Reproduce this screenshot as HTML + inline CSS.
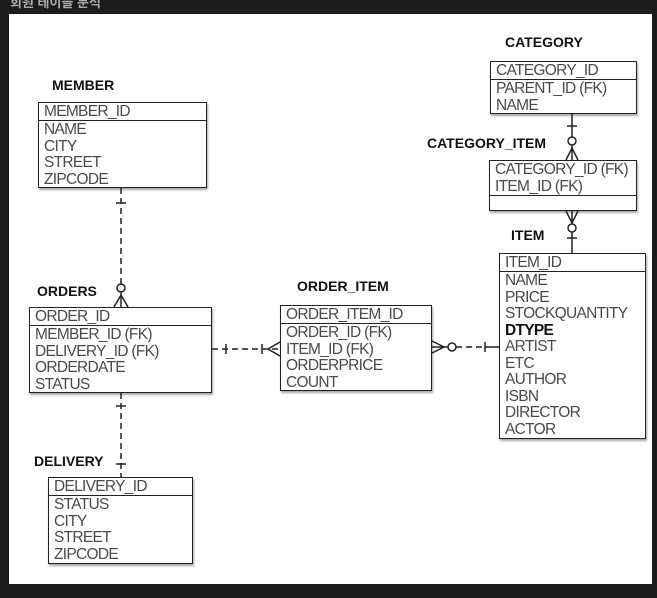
<!DOCTYPE html>
<html><head><meta charset="utf-8"><style>
*{margin:0;padding:0;box-sizing:border-box}
body{width:657px;height:598px;background:#1c1c1c;position:relative;overflow:hidden;font-family:"Liberation Sans",Arial,sans-serif}
#title{position:absolute;left:10px;top:-8px;color:#aaa;font:bold 13px "Liberation Sans","Noto Sans CJK KR",sans-serif}
#paper{position:absolute;left:9px;top:14px;width:643px;height:570px;background:#fff}
.lbl{position:absolute;font-weight:bold;font-size:14px;color:#111}
.box{position:absolute;border:1.5px solid #222;background:#fff;box-shadow:1px 2px 2px rgba(0,0,0,.35);color:#4a4a4a;font-size:15.5px;line-height:16.5px;letter-spacing:-0.7px}
.box .h{border-bottom:1.5px solid #222;padding-left:5px;height:18px;line-height:18px}
.box .f{padding-left:5px;padding-top:1px}
svg{position:absolute;left:0;top:0}
</style></head><body>
<div id="title">회원 테이블 분석</div>
<div id="paper"></div>

<div class="lbl" style="left:52px;top:77px">MEMBER</div>
<div class="lbl" style="left:505px;top:34px">CATEGORY</div>
<div class="lbl" style="left:427px;top:135px">CATEGORY_ITEM</div>
<div class="lbl" style="left:511px;top:227px">ITEM</div>
<div class="lbl" style="left:37px;top:283px">ORDERS</div>
<div class="lbl" style="left:297px;top:278px">ORDER_ITEM</div>
<div class="lbl" style="left:34px;top:453px">DELIVERY</div>

<div class="box" style="left:38px;top:102px;width:169px;height:86px">
<div class="h">MEMBER_ID</div><div class="f">NAME<br>CITY<br>STREET<br>ZIPCODE</div></div>

<div class="box" style="left:490px;top:61px;width:147px;height:53px">
<div class="h">CATEGORY_ID</div><div class="f">PARENT_ID (FK)<br>NAME</div></div>

<div class="box" style="left:489px;top:160px;width:148px;height:51px">
<div class="f" style="height:35px;border-bottom:1.5px solid #222">CATEGORY_ID (FK)<br>ITEM_ID (FK)</div></div>

<div class="box" style="left:499px;top:253px;width:147px;height:186px">
<div class="h">ITEM_ID</div><div class="f">NAME<br>PRICE<br>STOCKQUANTITY<br><b style="color:#111">DTYPE</b><br>ARTIST<br>ETC<br>AUTHOR<br>ISBN<br>DIRECTOR<br>ACTOR</div></div>

<div class="box" style="left:29px;top:307px;width:183px;height:86px">
<div class="h">ORDER_ID</div><div class="f">MEMBER_ID (FK)<br>DELIVERY_ID (FK)<br>ORDERDATE<br>STATUS</div></div>

<div class="box" style="left:280px;top:305px;width:152px;height:86px">
<div class="h">ORDER_ITEM_ID</div><div class="f">ORDER_ID (FK)<br>ITEM_ID (FK)<br>ORDERPRICE<br>COUNT</div></div>

<div class="box" style="left:48px;top:477px;width:145px;height:87px">
<div class="h">DELIVERY_ID</div><div class="f">STATUS<br>CITY<br>STREET<br>ZIPCODE</div></div>

<svg width="657" height="598" fill="none" stroke="#222" stroke-width="1.5">
<line x1="121" y1="188" x2="121" y2="284" stroke-dasharray="6,4"/>
<line x1="116" y1="203" x2="126" y2="203"/>
<circle cx="121" cy="288" r="4" fill="#fff"/>
<line x1="121" y1="292" x2="121" y2="307"/>
<path d="M114 307 L121 295 L128 307"/>
<line x1="121" y1="393" x2="121" y2="477" stroke-dasharray="6,4"/>
<line x1="116" y1="406" x2="126" y2="406"/>
<line x1="116" y1="464" x2="126" y2="464"/>
<line x1="212" y1="349" x2="280" y2="349" stroke-dasharray="6,4"/>
<line x1="226" y1="344" x2="226" y2="354"/>
<line x1="262" y1="344" x2="262" y2="354"/>
<path d="M280 342 L268 349 L280 356"/>
<path d="M432 341 L444 347 L432 353"/>
<line x1="432" y1="347" x2="448" y2="347"/>
<circle cx="452" cy="347" r="4" fill="#fff"/>
<line x1="456" y1="347" x2="485" y2="347" stroke-dasharray="6,4"/>
<line x1="485" y1="347" x2="499" y2="347"/>
<line x1="485" y1="342" x2="485" y2="352"/>
<line x1="572" y1="114" x2="572" y2="137"/>
<line x1="567" y1="126" x2="577" y2="126"/>
<circle cx="572" cy="141" r="4" fill="#fff"/>
<line x1="572" y1="145" x2="572" y2="160"/>
<path d="M566 160 L572 148 L578 160"/>
<path d="M566 211 L572 223 L578 211"/>
<line x1="572" y1="211" x2="572" y2="224"/>
<circle cx="572" cy="228" r="4" fill="#fff"/>
<line x1="572" y1="232" x2="572" y2="253"/>
<line x1="567" y1="238" x2="577" y2="238"/>
</svg>
</body></html>
